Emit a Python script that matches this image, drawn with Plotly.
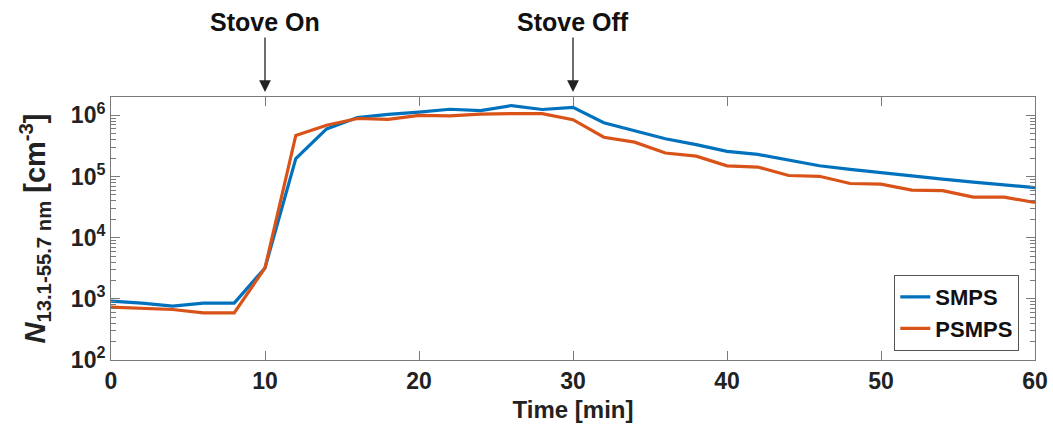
import plotly.graph_objects as go

time_min = [0, 2, 4, 6, 8, 10, 12, 14, 16, 18, 20, 22, 24, 26, 28, 30,
            32, 34, 36, 38, 40, 42, 44, 46, 48, 50, 52, 54, 56, 58, 60]
smps = [920, 850, 760, 850, 850, 3200, 196000, 600000, 920000, 1040000,
        1130000, 1260000, 1200000, 1450000, 1250000, 1350000,
        760000, 555000, 415000, 333000, 258000, 230000, 186000, 150000,
        131000, 115000, 102000, 91000, 81000, 74000, 66000]
psmps = [730, 700, 670, 590, 590, 3200, 471000, 690000, 890000, 860000,
         1000000, 980000, 1050000, 1070000, 1070000, 850000,
         440000, 365000, 243000, 216000, 150000, 143000, 104000, 101000,
         77000, 75000, 60000, 59000, 46000, 46000, 37600]
events = [(10, "Stove On"), (30, "Stove Off")]
x_ticks = [0, 10, 20, 30, 40, 50, 60]
y_decades = [2, 3, 4, 5, 6]

FONT = "Liberation Sans, Arial, sans-serif"
AX = "#7a7a7a"

fig = go.Figure()
fig.add_trace(go.Scatter(x=time_min, y=smps, mode="lines", name="SMPS",
                         line=dict(color="#0072BD", width=3.2)))
fig.add_trace(go.Scatter(x=time_min, y=psmps, mode="lines", name="PSMPS",
                         line=dict(color="#D95319", width=3.2)))

for xv, label in events:
    fig.add_annotation(x=xv, y=1, xref="x", yref="paper", text="<b>%s</b>" % label,
                       showarrow=True, ax=0, ay=-75, arrowhead=2, arrowsize=1.8,
                       arrowwidth=1.3, arrowcolor="#222", standoff=5,
                       font=dict(family=FONT, size=25, color="#111"))

minor_vals = [k * 10 ** d for d in range(2, 7) for k in range(2, 10) if k * 10 ** d <= 2e6]

fig.update_layout(
    width=1053, height=431,
    margin=dict(l=111, r=18, t=97, b=71),
    paper_bgcolor="white", plot_bgcolor="white",
    font=dict(family=FONT, size=23, color="#222", weight="bold"),
    showlegend=True,
    legend=dict(x=0.983, y=0.034, xanchor="right", yanchor="bottom",
                bgcolor="white", bordercolor="#555", borderwidth=1,
                font=dict(size=22, color="#111", family=FONT, weight="bold"),
                tracegroupgap=0),
)
fig.update_xaxes(range=[0, 60], tickvals=x_ticks, ticks="inside", ticklen=9,
                 tickcolor=AX, showline=True, linecolor=AX, linewidth=1,
                 mirror="ticks", showgrid=False, zeroline=False, automargin=False,
                 title=dict(text="<b>Time [min]</b>", standoff=8, font=dict(size=24)),
                 tickfont=dict(size=23, color="#222"))
fig.update_yaxes(type="log", range=[2, 6.30103],
                 tickvals=[10 ** d for d in y_decades],
                 ticktext=["<b>10<sup>%d</sup></b>" % d for d in y_decades],
                 ticks="inside", ticklen=9, tickcolor=AX,
                 minor=dict(tickvals=minor_vals, ticks="inside", ticklen=5, tickcolor=AX),
                 showline=True, linecolor=AX, linewidth=1, mirror="ticks",
                 showgrid=False, zeroline=False, automargin=False,
                 title=dict(text="<b><i>N</i><sub>13.1-55.7 nm</sub> [cm<sup>-3</sup>]</b>",
                            standoff=16, font=dict(size=29)),
                 tickfont=dict(size=23, color="#222"))

fig.write_html("out.html")
